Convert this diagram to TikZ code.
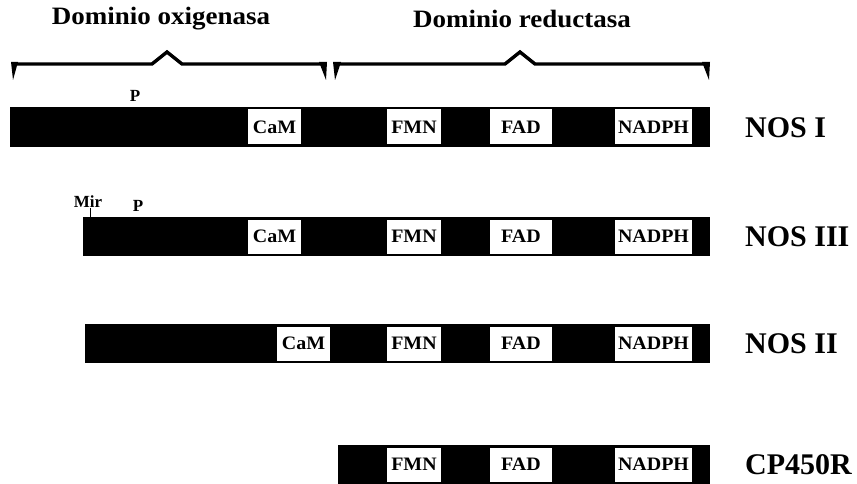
\documentclass[tikz,border=0pt]{standalone}
\usepackage{fontspec}
\setmainfont{Liberation Serif}
\tikzset{
  nosbar/.style={fill=black, draw=none},
  domainbox/.style={fill=white, draw=none, font=\bfseries\fontsize{19}{19}\selectfont, text=black, inner sep=0pt},
  protein/.style={font=\bfseries\fontsize{30}{30}\selectfont, anchor=west, inner sep=0pt},
  headingtext/.style={font=\bfseries\fontsize{25}{25}\selectfont, inner sep=0pt},
  sitelabel/.style={font=\bfseries\fontsize{17}{17}\selectfont, inner sep=0pt},
  braceline/.style={line width=3.4pt, line join=miter},
  bracetip/.style={fill=black, draw=none}
}
% box with a domain name inside a bar: #1 name, #2 left x, #3 right x, #4 top y, #5 bottom y, #6 text
\newcommand{\dombox}[6]{%
  \node[domainbox, minimum width={#3-#2}, minimum height={#5-#4-5}] (#1) at ({(#2+#3)/2},{(#4+#5)/2}) {\scalebox{1.05}[1]{#6}};}
\begin{document}
\begin{tikzpicture}[x=1pt,y=-1pt]
\useasboundingbox (0,0) rectangle (857,484);

% headings
\node[headingtext] (hox) at (161,19) {\scalebox{1.08}[1]{Dominio oxigenasa}};
\node[headingtext] (hred) at (522,19) {\scalebox{1.08}[1]{Dominio reductasa}};

% braces
\draw[braceline] (12,64) -- (152,64) -- (167,52) -- (182,64) -- (326,64);
\fill[bracetip] (11,62) -- (18,62) -- (13,80) -- cycle;
\fill[bracetip] (319,62) -- (327,62) -- (326,80) -- cycle;
\draw[braceline] (334,64) -- (505,64) -- (520,52) -- (535,64) -- (709,64);
\fill[bracetip] (333,62) -- (341,62) -- (335,80) -- cycle;
\fill[bracetip] (702,62) -- (710,62) -- (709,80) -- cycle;

% NOS I
\fill[nosbar] (10,107) rectangle (710,147);
\dombox{camA}{248}{301}{107}{147}{CaM}
\dombox{fmnA}{387}{441}{107}{147}{FMN}
\dombox{fadA}{490}{552}{107}{147}{FAD}
\dombox{nadA}{615}{692}{107}{147}{NADPH}
\node[sitelabel] (pA) at (135,96) {P};
\node[protein] (nosI) at (745,128) {NOS I};

% NOS III
\fill[nosbar] (83,217) rectangle (710,256);
\dombox{camB}{248}{301}{217}{256}{CaM}
\dombox{fmnB}{387}{441}{217}{256}{FMN}
\dombox{fadB}{490}{552}{217}{256}{FAD}
\dombox{nadB}{615}{692}{217}{256}{NADPH}
\node[sitelabel] (mir) at (88,202) {Mir};
\coordinate (mirbar) at (90,217);
\draw[line width=0.8pt] (mir.south -| mirbar) -- (mirbar);
\node[sitelabel] (pB) at (138,206) {P};
\node[protein] (nosIII) at (745,237) {NOS III};

% NOS II
\fill[nosbar] (85,324) rectangle (710,363);
\dombox{camC}{277}{330}{324}{363}{CaM}
\dombox{fmnC}{387}{441}{324}{363}{FMN}
\dombox{fadC}{490}{552}{324}{363}{FAD}
\dombox{nadC}{615}{692}{324}{363}{NADPH}
\node[protein] (nosII) at (745,344) {NOS II};

% CP450R
\fill[nosbar] (338,445) rectangle (710,484);
\dombox{fmnD}{387}{441}{445}{484}{FMN}
\dombox{fadD}{490}{552}{445}{484}{FAD}
\dombox{nadD}{615}{692}{445}{484}{NADPH}
\node[protein] (cp) at (745,465) {CP450R};
\end{tikzpicture}
\end{document}
